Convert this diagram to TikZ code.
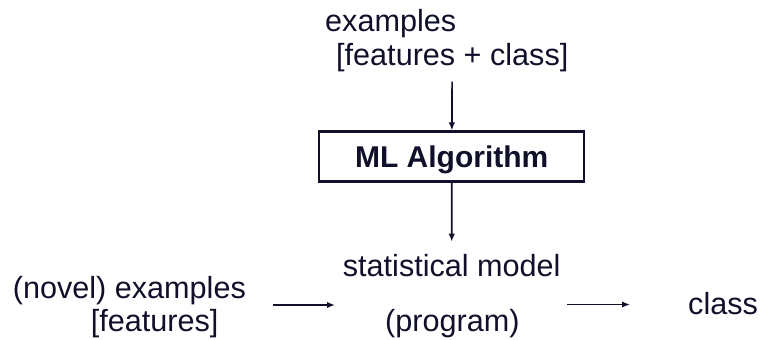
\documentclass[tikz,border=0pt]{standalone}
\usepackage{fontspec}
\setmainfont{Liberation Sans}
\usetikzlibrary{arrows.meta}
\definecolor{ink}{RGB}{16,16,42}
\begin{document}
\begin{tikzpicture}[x=1pt, y=-1pt,
  txt/.style={anchor=base west, inner sep=0pt, text=ink, font=\fontsize{30.6}{33}\selectfont},
  arr/.style={-{Latex[length=8pt,width=6.5pt]}, line width=1.7pt, draw=ink}]
  \useasboundingbox (0,0) rectangle (761,340);

  % Training examples
  \node[txt] (train) at (325,31.7) {examples};
  \node[txt] (trainfeat) at (336,65) {[features + class]};

  % Learner
  \node[draw=ink, line width=2.5pt, minimum width=265pt, minimum height=50pt, text depth=0pt,
    text=ink, font=\fontsize{30}{33}\selectfont\bfseries] (algo) at (451.7,156.7) {ML Algorithm};

  % Model
  \node[txt] (model) at (342.7,276) {statistical model};
  \node[txt] (prog) at (385,331.7) {(program)};

  % Novel input and output
  \node[txt] (novel) at (12.7,298.5) {(novel) examples};
  \node[txt] (novelfeat) at (90.7,331) {[features]};
  \node[txt] (out) at (688,314) {class};

  % Arrow ends
  \coordinate (inA) at (273,305);
  \coordinate (inB) at (335,305);
  \coordinate (outA) at (567,304.5);
  \coordinate (outB) at (630,304.5);

  % Arrows
  \draw[arr, shorten <=10pt] (trainfeat) -- (algo);
  \draw[arr, shorten >=12pt] (algo) -- (model);
  \draw[arr] (inA) -- (inB);
  \draw[arr] (outA) -- (outB);
\end{tikzpicture}
\end{document}
